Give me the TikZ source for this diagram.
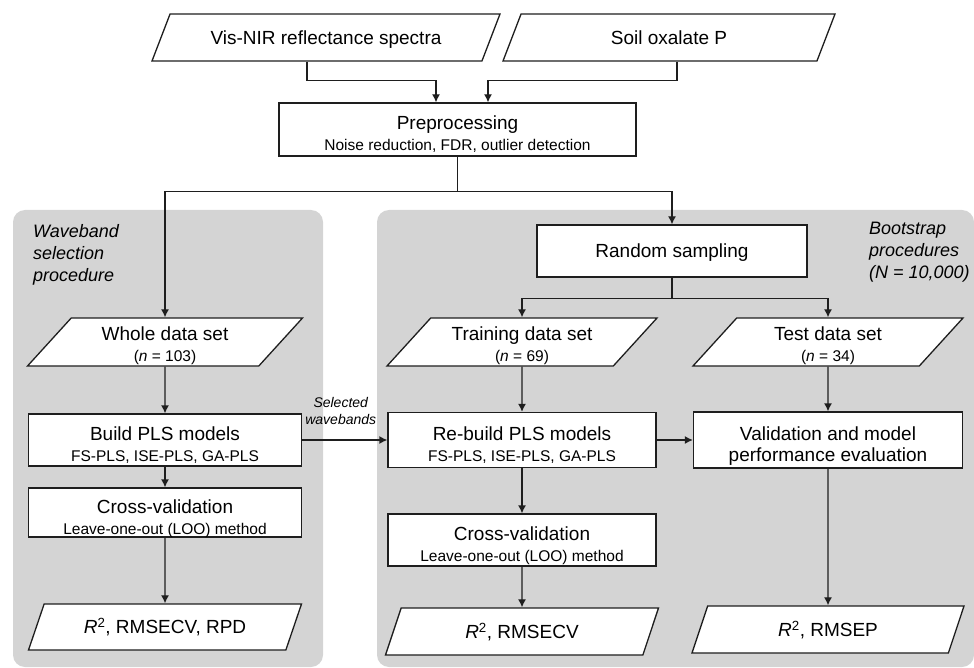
\documentclass[tikz,border=0pt]{standalone}
\usepackage{fontspec}
\setmainfont{Liberation Sans}
\usetikzlibrary{arrows.meta,shapes.geometric}
\tikzset{>={Latex[width=8pt,length=8pt]}}
\definecolor{panelgray}{RGB}{212,212,212}
\definecolor{inkgray}{RGB}{30,30,30}
\newcommand\bigtxt{\fontsize{19}{21}\selectfont}
\newcommand\subtxt{\fontsize{15.5}{21}\selectfont}
\tikzset{
  procbox/.style={draw=inkgray, fill=white, line width=1.3pt, align=center, inner sep=0pt, font=\bigtxt,
    text height=43pt, text depth=0pt},
  dataset/.style={draw=inkgray, fill=white, line width=1.3pt, align=center, inner sep=0pt,
    trapezium, trapezium left angle=41, trapezium right angle=139, trapezium stretches body,
    minimum height=48pt, font=\bigtxt, text height=38pt, text depth=0pt},
  oneline/.style={text height=13.6pt, text depth=0pt},
  panel/.style={fill=panelgray, rounded corners=12pt},
  paneltxt/.style={font=\fontsize{18}{22}\selectfont\itshape, align=left, anchor=north west, inner sep=0pt},
  link/.style={->, draw=inkgray, line width=1.3pt},
}

\begin{document}
\begin{tikzpicture}[x=1pt, y=-1pt]
  \useasboundingbox (0,0) rectangle (974,668);

  % panels
  \fill[panel] (13,210) rectangle (323,667);
  \fill[panel] (377,210) rectangle (974,667);
  \node[paneltxt] (wavelbl) at (33,224) {Waveband\\selection\\procedure};
  \node[paneltxt] (bootlbl) at (869,222) {Bootstrap\\procedures\\(N = 10,000)};

  % inputs
  \node[dataset, oneline, minimum width=348pt, minimum height=47pt, trapezium left angle=37, trapezium right angle=143]
    (vis) at (326,37.5) {Vis-NIR reflectance spectra};
  \node[dataset, oneline, minimum width=332pt, minimum height=47pt, trapezium left angle=37, trapezium right angle=143]
    (soil) at (669,37.5) {Soil oxalate P};
  \node[procbox, minimum width=357pt, minimum height=53pt] (prep) at (457.5,129.5)
    {Preprocessing\\{\subtxt Noise reduction, FDR, outlier detection}};

  % waveband selection
  \node[dataset, minimum width=275pt] (whole) at (165,342) {Whole data set\\{\subtxt(\textit{n} = 103)}};
  \node[procbox, minimum width=273pt, minimum height=52pt] (build) at (165,440)
    {Build PLS models\\{\subtxt FS-PLS, ISE-PLS, GA-PLS}};
  \node[procbox, minimum width=273pt, minimum height=49pt] (cvl) at (165,512.5)
    {Cross-validation\\{\subtxt Leave-one-out (LOO) method}};
  \node[dataset, oneline, minimum width=273pt, minimum height=46pt] (resl) at (165,627) {\textit{R}\textsuperscript{2}, RMSECV, RPD};

  % bootstrap
  \node[procbox, oneline, minimum width=270pt, minimum height=52pt] (rand) at (672,251) {Random sampling};
  \node[dataset, minimum width=270pt] (train) at (522,342) {Training data set\\{\subtxt(\textit{n} = 69)}};
  \node[dataset, minimum width=270pt] (test) at (828,342) {Test data set\\{\subtxt(\textit{n} = 34)}};
  \node[procbox, minimum width=268pt, minimum height=55pt] (rebuild) at (522,440)
    {Re-build PLS models\\{\subtxt FS-PLS, ISE-PLS, GA-PLS}};
  \node[procbox, minimum width=268pt, minimum height=52pt] (cvr) at (522,540)
    {Cross-validation\\{\subtxt Leave-one-out (LOO) method}};
  \node[dataset, oneline, minimum width=273pt, minimum height=47pt] (resr) at (522,631.5) {\textit{R}\textsuperscript{2}, RMSECV};
  \node[procbox, minimum width=269pt, minimum height=56pt] (valid) at (828,440)
    {Validation and model\\performance evaluation};
  \node[dataset, oneline, minimum width=272pt, minimum height=47pt] (resp) at (828,629.5) {\textit{R}\textsuperscript{2}, RMSEP};

  % connectors
  \draw[link] ([xshift=-19pt]vis.south) -- ++(0,19) -| ([xshift=-21.5pt]prep.north);
  \draw[link] ([xshift=8pt]soil.south) -- ++(0,19) -| ([xshift=30.5pt]prep.north);
  \draw[link] (prep.south) -- ++(0,35) -| (whole.north);
  \draw[link] (prep.south) -- ++(0,35) -| (rand.north);
  \draw[link] (rand.south) -- ++(0,21) -| (train.north);
  \draw[link] (rand.south) -- ++(0,21) -| (test.north);
  \foreach \a/\b in {whole/build, build/cvl, cvl/resl, train/rebuild, rebuild/cvr, cvr/resr, test/valid, valid/resp}
    \draw[link] (\a.south) -- (\b.north);
  \draw[link] (build.east) -- node[above=15pt, xshift=-4pt, inner sep=0pt, align=center,
    font=\fontsize{14}{17}\selectfont\itshape] (sellbl) {Selected\\wavebands} (rebuild.west);
  \draw[link] (rebuild.east) -- (valid.west);
\end{tikzpicture}
\end{document}
